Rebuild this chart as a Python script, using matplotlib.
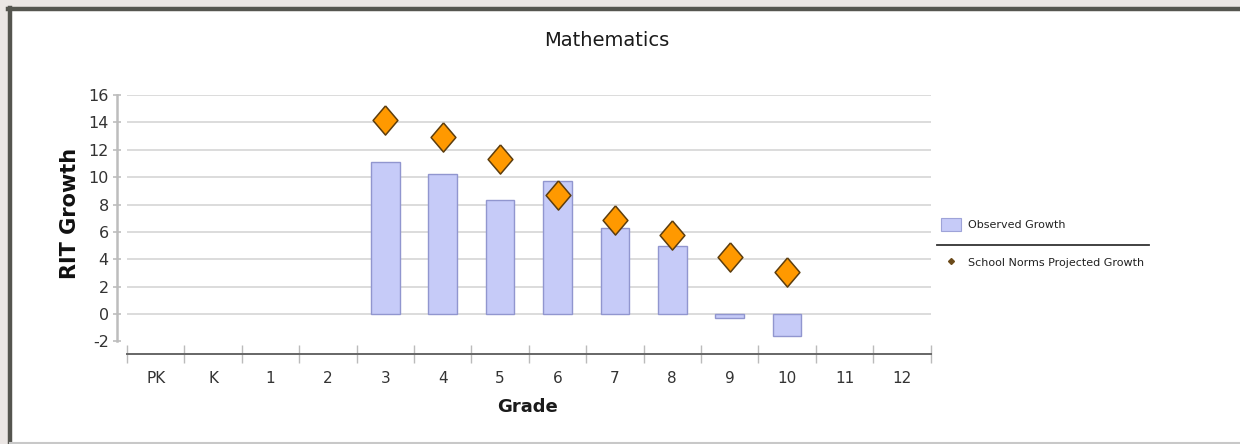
import numpy as np
import matplotlib
matplotlib.use("Agg")
import matplotlib.pyplot as plt
from matplotlib.patches import Rectangle, Patch
from matplotlib.lines import Line2D

W, H = 1240, 444

grades = ["PK", "K", "1", "2", "3", "4", "5", "6", "7", "8", "9", "10", "11", "12"]
observed = [np.nan, np.nan, np.nan, np.nan, 11.1, 10.2, 8.3, 9.7, 6.3, 5.0, -0.3, -1.6, np.nan, np.nan]
projected = [np.nan, np.nan, np.nan, np.nan, 14.2, 12.9, 11.3, 8.7, 6.9, 5.8, 4.2, 3.1, np.nan, np.nan]
y_ticks = [-2, 0, 2, 4, 6, 8, 10, 12, 14, 16]

plt.rcParams['font.family'] = ['DejaVu Sans']
plt.rcParams['axes.unicode_minus'] = False

fig = plt.figure(figsize=(W / 100, H / 100), dpi=100, facecolor="#ebe6e4")

# white panel with a dark frame on top / left
fig.patches.append(Rectangle((10 / W, 2 / H), 1, (H - 12) / H, transform=fig.transFigure,
                             facecolor="white", edgecolor="none", zorder=-10))
fig.lines.append(Line2D([9.5 / W, 9.5 / W], [0, (H - 8.5) / H], transform=fig.transFigure,
                        color="#55554f", lw=3.2, zorder=-5))
fig.lines.append(Line2D([8 / W, 1], [(H - 9.5) / H, (H - 9.5) / H], transform=fig.transFigure,
                        color="#55554f", lw=3.2, zorder=-5))
fig.lines.append(Line2D([10 / W, 1], [1.5 / H, 1.5 / H], transform=fig.transFigure,
                        color="#c8c8c8", lw=1.5, zorder=-5))

ax = fig.add_axes([127 / W, (H - 341.4) / H, (930.6 - 127) / W, (341.4 - 95) / H])
ax.set_facecolor("none")

x = np.arange(len(grades))
for v in y_ticks:
    if v >= 0:
        ax.axhline(v, color="#d9d9d9", lw=1.3, zorder=0)

ax.bar(x, observed, width=0.5, color="#c6cbf8", edgecolor="#9196cf", lw=1.0, zorder=2)

# tall orange diamonds
diamond = [(0, 1), (0.85, 0), (0, -1), (-0.85, 0), (0, 1)]
ax.plot(x, projected, linestyle="none", marker=diamond, markersize=21,
        markerfacecolor="#ff9900", markeredgecolor="#5c3d0e", markeredgewidth=1.1, zorder=3)

ax.set_xlim(-0.5, len(grades) - 0.5)
ax.set_ylim(-2, 16)
ax.set_yticks(y_ticks)
ax.set_xticks(np.arange(len(grades) + 1) - 0.5)
ax.set_xticklabels([])
ax.set_xticks(x, minor=True)
ax.set_xticklabels(grades, minor=True)

for s in ["top", "right"]:
    ax.spines[s].set_visible(False)
ax.spines["left"].set_position(("outward", 7.2))
ax.spines["left"].set_color("#bdbdbd")
ax.spines["left"].set_linewidth(1.8)
ax.spines["bottom"].set_position(("outward", 9.1))
ax.spines["bottom"].set_color("#666666")
ax.spines["bottom"].set_linewidth(1.4)

ax.tick_params(axis="y", direction="inout", length=6, width=1.2, color="#bdbdbd",
               labelsize=11.5, labelcolor="#333333", pad=3)
ax.tick_params(axis="x", which="major", direction="inout", length=13, width=1.0, color="#bbbbbb")
ax.tick_params(axis="x", which="minor", length=0, labelsize=11, labelcolor="#333333", pad=12)

fig.text(607 / W, (H - 40) / H, "Mathematics", fontsize=14, color="#1a1a1a",
         ha="center", va="center")
fig.text(527 / W, (H - 407) / H, "Grade", fontsize=13, fontweight="bold", color="#1a1a1a",
         ha="center", va="center")
fig.text(70 / W, (H - 213) / H, "RIT Growth", fontsize=15, fontweight="bold", color="#111111",
         ha="center", va="center", rotation=90)

handles = [Patch(facecolor="#c6cbf8", edgecolor="#9ea3d8", lw=0.8),
           Line2D([], [], linestyle="none", marker="D", markersize=3,
                  markerfacecolor="#6b4a1a", markeredgecolor="#6b4a1a")]
leg = fig.legend(handles, ["Observed Growth", "School Norms Projected Growth"],
                 loc="upper left", bbox_to_anchor=(941 / W, (H - 218) / H),
                 frameon=False, fontsize=8, borderpad=0, borderaxespad=0,
                 handlelength=1.8, handleheight=1.45, handletextpad=0.65, labelspacing=2.2)
for t in leg.get_texts():
    t.set_color("#222222")
fig.lines.append(Line2D([937 / W, 1149 / W], [(H - 245) / H, (H - 245) / H],
                        transform=fig.transFigure, color="#333333", lw=1.3))

fig.savefig("out.png", dpi=100, facecolor=fig.get_facecolor())
